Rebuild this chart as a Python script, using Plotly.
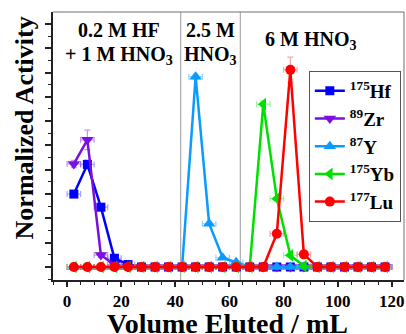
import plotly.graph_objects as go

# Elution fractions (mL, centre of each 5 mL fraction)
volume = [2.5, 7.5, 12.5, 17.5, 22.5, 27.5, 32.5, 37.5, 42.5, 47.5, 52.5, 57.5,
          62.5, 67.5, 72.5, 77.5, 82.5, 87.5, 92.5, 97.5, 102.5, 107.5, 112.5, 117.5]

hf175 = [0.300, 0.422, 0.246, 0.036, 0.010, 0, 0, 0, 0, 0, 0, 0,
         0, 0, 0, 0, 0, 0, 0, 0, 0, 0, 0, 0]
zr89 = [0.424, 0.523, 0.049, 0.010, 0, 0, 0, 0, 0, 0, 0, 0,
        0, 0, 0, 0, 0, 0, 0, 0, 0, 0, 0, 0]
y87 = [0, 0, 0, 0, 0, 0, 0, 0, 0, 0.783, 0.178, 0.038,
       0.020, 0, 0, 0, 0, 0, 0, 0, 0, 0, 0, 0]
yb175 = [0, 0, 0, 0, 0, 0, 0, 0, 0, 0, 0, 0,
         0, 0, 0.670, 0.281, 0.048, 0.004, 0, 0, 0, 0, 0, 0]
lu177 = [0, 0, 0, 0, 0, 0, 0, 0, 0, 0, 0, 0,
         0, 0, 0, 0.137, 0.811, 0.052, 0, 0, 0, 0, 0, 0]

# Uncertainties on activity (y) and fraction volume (x)
hf175_err = [0.012, 0.018, 0.012, 0.006, 0, 0, 0, 0, 0, 0, 0, 0,
             0, 0, 0, 0, 0, 0, 0, 0, 0, 0, 0, 0]
zr89_err = [0.015, 0.040, 0.010, 0.004, 0, 0, 0, 0, 0, 0, 0, 0,
            0, 0, 0, 0, 0, 0, 0, 0, 0, 0, 0, 0]
y87_err = [0, 0, 0, 0, 0, 0, 0, 0, 0, 0.010, 0.006, 0.004,
           0.003, 0, 0, 0, 0, 0, 0, 0, 0, 0, 0, 0]
yb175_err = [0, 0, 0, 0, 0, 0, 0, 0, 0, 0, 0, 0,
             0, 0, 0.012, 0.008, 0.004, 0.002, 0, 0, 0, 0, 0, 0]
lu177_err = [0, 0, 0, 0, 0, 0, 0, 0, 0, 0, 0, 0,
             0, 0, 0, 0.010, 0.052, 0.008, 0, 0, 0, 0, 0, 0]
volume_err = 2.5

# Eluent changes (mL) and eluent labels
eluent_switch = [42, 64]
eluent_labels = [
    (19.3, ["0.2 M HF", "+ 1 M HNO<sub>3</sub>"]),
    (53.0, ["2.5 M", "HNO<sub>3</sub>"]),
    (90.0, ["6 M HNO<sub>3</sub>"]),
]

series = [
    ("<sup>175</sup>Hf", hf175, hf175_err, "#0000FF", "rgba(90,90,255,0.55)", "square", 9),
    ("<sup>89</sup>Zr", zr89, zr89_err, "#7B0FE0", "rgba(150,60,240,0.55)", "triangle-down", 11),
    ("<sup>87</sup>Y", y87, y87_err, "#0A9BFF", "rgba(60,170,255,0.55)", "triangle-up", 11),
    ("<sup>175</sup>Yb", yb175, yb175_err, "#00E000", "rgba(80,230,80,0.55)", "triangle-left", 11),
    ("<sup>177</sup>Lu", lu177, lu177_err, "#FF0000", "rgba(255,90,90,0.55)", "circle", 10),
]

FONT = "Liberation Serif"

fig = go.Figure()
for name, vals, errs, color, ecolor, symbol, size in series:
    fig.add_trace(go.Scatter(
        x=volume, y=vals, name=name, mode="lines+markers",
        line=dict(color=color, width=2.5),
        marker=dict(symbol=symbol, size=size, color=color),
        error_y=dict(type="data", array=errs, color=ecolor, thickness=1.2, width=3),
        error_x=dict(type="constant", value=volume_err, color=ecolor, thickness=1.2, width=3),
    ))

for xv in eluent_switch:
    fig.add_shape(type="line", xref="x", yref="paper", x0=xv, x1=xv, y0=0, y1=1,
                  line=dict(color="#9a9a9a", width=1), layer="below")

# top and right frame
fig.add_shape(type="line", xref="paper", yref="paper", x0=0, x1=1, y0=1, y1=1,
              line=dict(color="#6e6e6e", width=1))
fig.add_shape(type="line", xref="paper", yref="paper", x0=1, x1=1, y0=0, y1=1,
              line=dict(color="#6e6e6e", width=1))

line_y = [0.932, 0.839]
for xc, lines in eluent_labels:
    ys = line_y if len(lines) == 2 else [0.895]
    for txt, yy in zip(lines, ys):
        fig.add_annotation(x=xc, y=yy, xref="x", yref="paper", text=txt,
                           showarrow=False, xanchor="center", yanchor="middle",
                           font=dict(family=FONT, size=20, color="black", weight="bold"))

# axis titles
fig.add_annotation(x=-0.08, y=0.569, xref="paper", yref="paper",
                   text="Normalized Activity", textangle=-90, showarrow=False,
                   xanchor="center", yanchor="middle",
                   font=dict(family=FONT, size=26, color="black", weight="bold"))
fig.add_annotation(x=0.497, y=-0.162, xref="paper", yref="paper",
                   text="Volume Eluted / mL", showarrow=False,
                   xanchor="center", yanchor="middle",
                   font=dict(family=FONT, size=28, color="black", weight="bold"))

fig.update_layout(
    width=406, height=334,
    margin=dict(l=53, r=2, t=12, b=54),
    paper_bgcolor="white", plot_bgcolor="white",
    font=dict(family=FONT, color="black", weight="bold"),
    legend=dict(
        x=0.991, y=0.78, xanchor="right", yanchor="top",
        bordercolor="#555555", borderwidth=1, bgcolor="white",
        font=dict(family=FONT, size=19, color="black", weight="bold"),
        tracegroupgap=0, itemwidth=30,
    ),
    xaxis=dict(
        range=[-5.2, 124.5], tick0=0, dtick=20, ticks="outside", ticklen=5,
        tickwidth=1.5, tickcolor="#222", showline=True, linecolor="#222", linewidth=1.5,
        showgrid=False, zeroline=False, automargin=False,
        tickfont=dict(family=FONT, size=17, color="black", weight="bold"),
        minor=dict(dtick=5, ticks="outside", ticklen=3, tickcolor="#222", tickwidth=1),
    ),
    yaxis=dict(
        range=[-0.0535, 1.049], tick0=0, dtick=0.1, ticks="outside", ticklen=6,
        tickwidth=1.5, tickcolor="#222", showline=True, linecolor="#222", linewidth=1.5,
        showticklabels=False, showgrid=False, zeroline=False, automargin=False,
        minor=dict(dtick=0.05, ticks="outside", ticklen=3, tickcolor="#222", tickwidth=1),
    ),
)

fig.write_html("out.html")
